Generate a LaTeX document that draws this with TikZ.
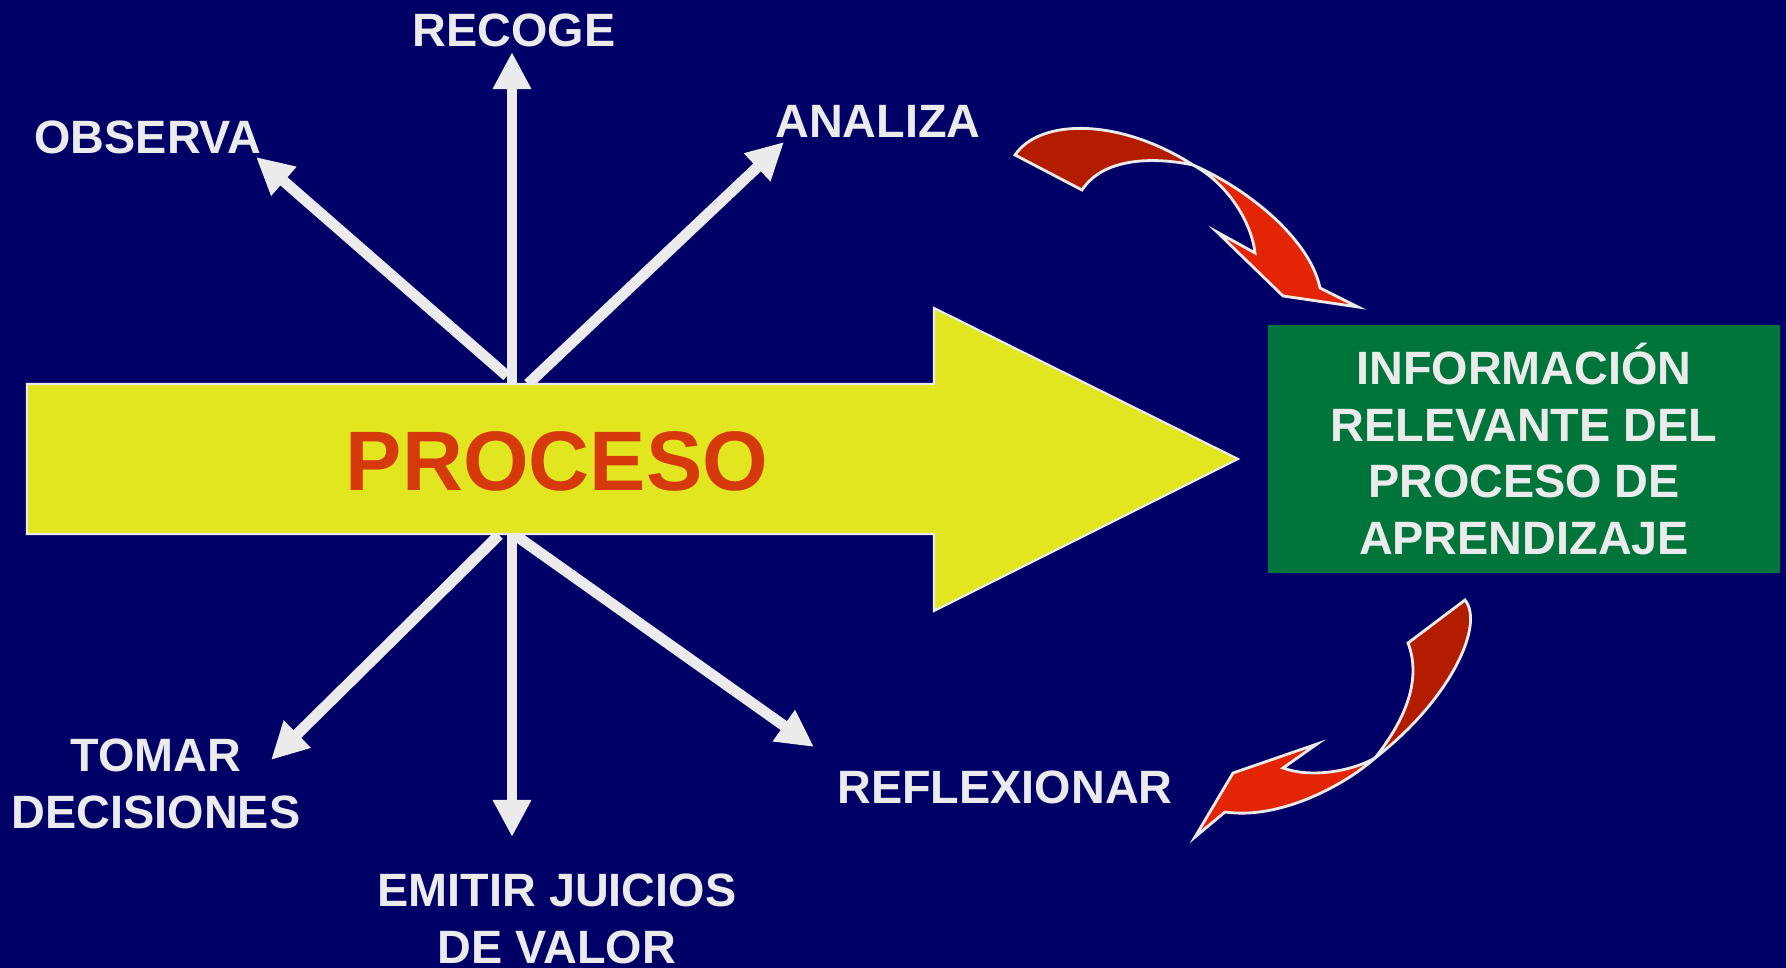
\documentclass[tikz,border=0pt]{standalone}
\usepackage{fontspec}
\setmainfont{Liberation Sans}
\usepackage{tikz}
\usetikzlibrary{calc,arrows.meta}
\definecolor{bg}{HTML}{000066}
\definecolor{txt}{HTML}{EBEBEB}
\definecolor{yel}{HTML}{E1E621}
\definecolor{proc}{HTML}{D63A0C}
\definecolor{infobg}{HTML}{00753B}
\definecolor{reddark}{HTML}{B41C00}
\definecolor{redlight}{HTML}{E32505}
\tikzset{
  ray/.style={draw=txt, line width=3.1pt, -{Triangle[length=0.37cm,width=0.36cm]}},
  lab/.style={text=txt, font=\fontsize{13.3}{16.2}\selectfont\bfseries, align=center, inner sep=0pt},
  bigarrow/.style={draw=txt, line width=0.6pt, fill=yel, line join=miter},
  infobox/.style={fill=infobg, minimum width=5.12cm, minimum height=2.48cm, lab},
  twist/.style={draw=txt, line width=0.8pt, line join=miter},
}

\begin{document}
\begin{tikzpicture}[x=0.01cm, y=-0.01cm]
  \fill[bg] (0,0) rectangle (1786,968);
  \useasboundingbox (0,0) rectangle (1786,968);

  % rays start on the edges of the big arrow
  \coordinate (top) at (512,384);
  \coordinate (bot) at (512,535);

  \coordinate (tobs) at (256,157);
  \coordinate (trec) at (512,52);
  \coordinate (tana) at (784,142);
  \coordinate (ttom) at (271,760);
  \coordinate (temi) at (512,837);
  \coordinate (tref) at (814,747);

  \draw[ray] ($(top)+(-5,-8)$) -- (tobs);
  \draw[ray] (top) -- (trec);
  \draw[ray] ($(top)+(16,0)$) -- (tana);
  \draw[ray] ($(bot)+(-13,0)$) -- (ttom);
  \draw[ray] (bot) -- (temi);
  \draw[ray] ($(bot)+(3,0)$) -- (tref);

  % big yellow arrow
  \draw[bigarrow] (27,384) -- (934,384) -- (934,308) -- (1238,459)
    -- (934,611) -- (934,534) -- (27,534) -- cycle;
  \node[text=proc, font=\fontsize{24}{28}\selectfont\bfseries] (proceso) at (557,461) {PROCESO};

  % labels
  \node[lab] (recoge) at (514,30) {RECOGE};
  \node[lab] (observa) at (148,137) {OBSERVA};
  \node[lab] (analiza) at (878,121) {ANALIZA};
  \node[lab] (tomar) at (156,784) {TOMAR\\DECISIONES};
  \node[lab] (emitir) at (557,919) {EMITIR JUICIOS\\DE VALOR};
  \node[lab] (reflex) at (1005,787) {REFLEXIONAR};

  % result box
  \node[infobox] (info) at (1524,449) {INFORMACIÓN\\RELEVANTE DEL\\PROCESO DE\\APRENDIZAJE};

  % curved arrow into the box
  \draw[twist, fill=reddark] (1015,155) .. controls (1040,118) and (1120,118) .. (1193,165)
    .. controls (1160,158) and (1105,155) .. (1082,190) -- cycle;
  \draw[twist, fill=redlight] (1193,165) .. controls (1250,190) and (1310,240) .. (1320,288)
    -- (1358,307) -- (1283,296) -- (1217,232) -- (1255,253)
    .. controls (1252,225) and (1230,185) .. cycle;

  % curved arrow out of the box
  \draw[twist, fill=reddark] (1465,600) .. controls (1485,625) and (1450,700) .. (1375,758)
    .. controls (1405,720) and (1422,680) .. (1408,643) -- cycle;
  \draw[twist, fill=redlight] (1375,758) .. controls (1345,785) and (1280,820) .. (1225,812)
    -- (1195,837) -- (1233,773) -- (1317,744) -- (1283,768)
    .. controls (1310,778) and (1350,772) .. cycle;
\end{tikzpicture}
\end{document}
